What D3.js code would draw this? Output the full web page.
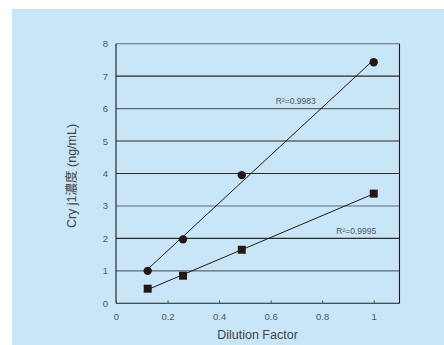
<!DOCTYPE html>
<html><head><meta charset="utf-8">
<script src="https://cdn.jsdelivr.net/npm/d3@7"></script>
<style>body{margin:0;background:#fff}svg{display:block}</style>
</head><body>
<svg id="c" width="444" height="345"></svg>
<script>
const xCircle = [0.123, 0.26, 0.488, 1.0];
const yCircle = [1.0, 1.97, 3.95, 7.43];
const xSquare = [0.123, 0.26, 0.488, 1.0];
const ySquare = [0.45, 0.85, 1.65, 3.38];
const r2Labels = ["R²=0.9983", "R²=0.9995"];
const xTicks = [0, 0.2, 0.4, 0.6, 0.8, 1];
const yTicks = [0, 1, 2, 3, 4, 5, 6, 7, 8];
const darkGrid = [7, 5, 4, 2];

const svg = d3.select("#c");
const font = "'Liberation Sans', Arial, sans-serif";
const ink = "#231815";
svg.append("rect").attr("x", 12).attr("y", 9).attr("width", 432).attr("height", 336).attr("fill", "#c8e6f7");

const x = d3.scaleLinear().domain([0, 1.1]).range([116, 399.5]);
const y = d3.scaleLinear().domain([0, 8]).range([303.3, 43.7]);

// gridlines
svg.append("g").selectAll("line").data(yTicks.filter(d => d > 0)).join("line")
  .attr("x1", x(0)).attr("x2", x(1.1)).attr("y1", d => y(d)).attr("y2", d => y(d))
  .attr("stroke", d => darkGrid.includes(d) ? "#2a2a2a" : "#5f6770").attr("stroke-width", 1.1);

// axes frame
const fr = svg.append("g").attr("stroke", ink).attr("stroke-width", 1.1);
fr.append("line").attr("x1", x(0)).attr("x2", x(0)).attr("y1", y(0)).attr("y2", y(8));
fr.append("line").attr("x1", x(1.1)).attr("x2", x(1.1)).attr("y1", y(0)).attr("y2", y(8));
fr.append("line").attr("x1", x(0)).attr("x2", x(1.1)).attr("y1", y(0)).attr("y2", y(0));

// x axis ticks (inside)
const xa = d3.axisBottom(x).tickValues(xTicks).tickSizeInner(-3).tickSizeOuter(0).tickPadding(10).tickFormat(d3.format("~g"));
const gx = svg.append("g").attr("transform", `translate(0,${y(0)})`).call(xa);
gx.select(".domain").remove();
gx.selectAll(".tick line").attr("stroke", "#555");
gx.selectAll("text").attr("fill", "#555").attr("font-size", 9.5).attr("font-family", font);

const ya = d3.axisLeft(y).tickValues(yTicks).tickSize(0).tickPadding(8).tickFormat(d3.format("d"));
const gy = svg.append("g").attr("transform", `translate(${x(0)},0)`).call(ya);
gy.select(".domain").remove();
gy.selectAll("text").attr("fill", "#555").attr("font-size", 9.5).attr("font-family", font);

// regression lines
function fit(xs, ys) {
  const n = xs.length, mx = d3.mean(xs), my = d3.mean(ys);
  let sxy = 0, sxx = 0;
  for (let i = 0; i < n; i++) { sxy += (xs[i]-mx)*(ys[i]-my); sxx += (xs[i]-mx)**2; }
  const b = sxy / sxx, a = my - b*mx;
  const x0 = d3.min(xs), x1 = d3.max(xs);
  return [[x0, a + b*x0], [x1, a + b*x1]];
}
const line = d3.line().x(d => x(d[0])).y(d => y(d[1]));
[[xCircle, yCircle], [xSquare, ySquare]].forEach(([xs, ys]) => {
  svg.append("path").attr("d", line(fit(xs, ys))).attr("fill", "none").attr("stroke", ink).attr("stroke-width", 1);
});

svg.append("g").selectAll("circle").data(xCircle.map((d, i) => [d, yCircle[i]])).join("circle")
  .attr("cx", d => x(d[0])).attr("cy", d => y(d[1])).attr("r", 4.2).attr("fill", ink);
const s = 8;
svg.append("g").selectAll("rect").data(xSquare.map((d, i) => [d, ySquare[i]])).join("rect")
  .attr("x", d => x(d[0]) - s/2).attr("y", d => y(d[1]) - s/2).attr("width", s).attr("height", s).attr("fill", ink);

// R² labels
[[r2Labels[0], 0.62, 6.2], [r2Labels[1], 0.855, 2.2]].forEach(([t, px, py]) => {
  svg.append("text").attr("x", x(px)).attr("y", y(py)).attr("fill", "#555")
    .attr("font-size", 8.5).attr("font-family", font).attr("dominant-baseline", "middle").text(t);
});

// titles
svg.append("text").attr("x", 257.5).attr("y", 336).attr("text-anchor", "middle").attr("dominant-baseline", "middle")
  .attr("font-size", 12.5).attr("font-family", font).attr("fill", "#444").text("Dilution Factor");
svg.append("text").attr("transform", "translate(73,176) rotate(-90)").attr("text-anchor", "middle").attr("dominant-baseline", "middle")
  .attr("font-size", 12.5).attr("font-family", "'Liberation Sans', 'Noto Sans CJK JP', sans-serif").attr("fill", "#444").text("Cry j1濃度 (ng/mL)");
</script>
</body></html>
